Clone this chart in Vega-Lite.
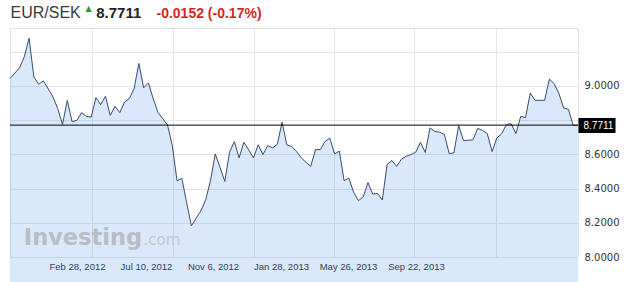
{
  "$schema": "https://vega.github.io/schema/vega-lite/v6.json",
  "autosize": {"type": "none"},
  "padding": {"left": 10, "top": 28, "right": 46, "bottom": 25},
  "width": 568,
  "height": 229,
  "background": "white",
  "config": {
    "view": {"stroke": "#e2e2e2"},
    "axis": {"gridColor": "#e6e6e6", "gridWidth": 1, "titleLimit": 1000}
  },
  "data": {
    "values": [
      {"i":0,"v":9.044},{"i":1,"v":9.075},{"i":2,"v":9.106},{"i":3,"v":9.171},{"i":4,"v":9.279},
      {"i":5,"v":9.053},{"i":6,"v":9.010},{"i":7,"v":9.030},{"i":8,"v":8.984},{"i":9,"v":8.936},
      {"i":10,"v":8.868},{"i":11,"v":8.775},{"i":12,"v":8.916},{"i":13,"v":8.791},{"i":14,"v":8.799},
      {"i":15,"v":8.844},{"i":16,"v":8.822},{"i":17,"v":8.818},{"i":18,"v":8.932},{"i":19,"v":8.891},
      {"i":20,"v":8.940},{"i":21,"v":8.828},{"i":22,"v":8.881},{"i":23,"v":8.844},{"i":24,"v":8.906},
      {"i":25,"v":8.926},{"i":26,"v":8.985},{"i":27,"v":9.132},{"i":28,"v":8.989},{"i":29,"v":9.018},
      {"i":30,"v":8.926},{"i":31,"v":8.846},{"i":32,"v":8.809},{"i":33,"v":8.772},{"i":34,"v":8.652},
      {"i":35,"v":8.446},{"i":36,"v":8.460},{"i":37,"v":8.319},{"i":38,"v":8.182},{"i":39,"v":8.227},
      {"i":40,"v":8.270},{"i":41,"v":8.335},{"i":42,"v":8.446},{"i":43,"v":8.603},{"i":44,"v":8.525},
      {"i":45,"v":8.442},{"i":46,"v":8.613},{"i":47,"v":8.675},{"i":48,"v":8.580},{"i":49,"v":8.671},
      {"i":50,"v":8.627},{"i":51,"v":8.580},{"i":52,"v":8.656},{"i":53,"v":8.599},{"i":54,"v":8.652},
      {"i":55,"v":8.638},{"i":56,"v":8.658},{"i":57,"v":8.789},{"i":58,"v":8.656},{"i":59,"v":8.646},
      {"i":60,"v":8.619},{"i":61,"v":8.580},{"i":62,"v":8.554},{"i":63,"v":8.530},{"i":64,"v":8.628},
      {"i":65,"v":8.628},{"i":66,"v":8.675},{"i":67,"v":8.695},{"i":68,"v":8.603},{"i":69,"v":8.619},
      {"i":70,"v":8.446},{"i":71,"v":8.461},{"i":72,"v":8.378},{"i":73,"v":8.329},{"i":74,"v":8.352},
      {"i":75,"v":8.435},{"i":76,"v":8.368},{"i":77,"v":8.372},{"i":78,"v":8.333},{"i":79,"v":8.540},
      {"i":80,"v":8.564},{"i":81,"v":8.530},{"i":82,"v":8.572},{"i":83,"v":8.589},{"i":84,"v":8.599},
      {"i":85,"v":8.613},{"i":86,"v":8.671},{"i":87,"v":8.611},{"i":88,"v":8.755},{"i":89,"v":8.734},
      {"i":90,"v":8.730},{"i":91,"v":8.717},{"i":92,"v":8.605},{"i":93,"v":8.609},{"i":94,"v":8.769},
      {"i":95,"v":8.681},{"i":96,"v":8.683},{"i":97,"v":8.685},{"i":98,"v":8.752},{"i":99,"v":8.740},
      {"i":100,"v":8.721},{"i":101,"v":8.617},{"i":102,"v":8.697},{"i":103,"v":8.720},{"i":104,"v":8.775},
      {"i":105,"v":8.779},{"i":106,"v":8.722},{"i":107,"v":8.822},{"i":108,"v":8.815},{"i":109,"v":8.959},
      {"i":110,"v":8.916},{"i":111,"v":8.916},{"i":112,"v":8.916},{"i":113,"v":9.040},{"i":114,"v":9.014},
      {"i":115,"v":8.956},{"i":116,"v":8.871},{"i":117,"v":8.863},{"i":118,"v":8.769},{"i":119,"v":8.7711}
    ]
  },
  "resolve": {"axis": {"x": "independent", "y": "independent"}},
  "layer": [
    {
      "mark": {"type": "area", "fill": "#2b7de9", "fillOpacity": 0.18},
      "encoding": {
        "x": {"field": "i", "type": "quantitative",
          "scale": {"domain": [0, 119], "nice": false, "zero": false},
          "axis": {"orient": "top", "values": [17.2, 34.15, 51.1, 67.9, 84.6, 101.8], "grid": true, "labels": false, "ticks": false, "domain": false,
            "title": "EUR/SEK", "titleX": 0, "titleY": -10.5, "titleAlign": "left", "titleBaseline": "alphabetic", "titleAngle": 0,
            "titleFont": "Liberation Sans", "titleFontSize": 16, "titleFontWeight": "normal", "titleColor": "#3a3a3a"}},
        "y": {"field": "v", "type": "quantitative",
          "scale": {"domain": [8.0, 9.339], "nice": false, "zero": false},
          "axis": {"orient": "left", "values": [8.0, 8.2, 8.4, 8.6, 8.8, 9.0, 9.2], "grid": true, "labels": false, "ticks": false, "domain": false,
            "title": "8.7711", "titleX": 85.7, "titleY": -10.5, "titleAlign": "left", "titleBaseline": "alphabetic", "titleAngle": 0,
            "titleFont": "Liberation Sans", "titleFontSize": 15, "titleFontWeight": "bold", "titleColor": "#222222"}}
      }
    },
    {
      "mark": {"type": "line", "stroke": "#3d4a6a", "strokeWidth": 1},
      "encoding": {
        "x": {"field": "i", "type": "quantitative",
          "scale": {"domain": [0, 119], "nice": false, "zero": false},
          "axis": {"orient": "bottom", "values": [14.04, 28.49, 42.53, 56.78, 70.81, 85.06], "grid": false, "ticks": false, "domain": false,
            "labelExpr": "datum.value < 20 ? 'Feb 28, 2012' : datum.value < 35 ? 'Jul 10, 2012' : datum.value < 50 ? 'Nov 6, 2012' : datum.value < 64 ? 'Jan 28, 2013' : datum.value < 78 ? 'May 26, 2013' : 'Sep 22, 2013'",
            "labelFont": "Liberation Sans", "labelFontSize": 9.5, "labelColor": "#333333", "labelPadding": 4, "labelFlush": false, "labelOverlap": false,
            "title": "-0.0152 (-0.17%)", "titleX": 146, "titleY": -239.7, "titleAlign": "left", "titleBaseline": "alphabetic", "titleAngle": 0,
            "titleFont": "Liberation Sans", "titleFontSize": 14, "titleFontWeight": "bold", "titleColor": "#dc1f26"}},
        "y": {"field": "v", "type": "quantitative",
          "scale": {"domain": [8.0, 9.339], "nice": false, "zero": false},
          "axis": {"orient": "right", "values": [8.0, 8.2, 8.4, 8.6, 9.0], "format": ".4f", "grid": false, "ticks": false, "domain": false,
            "labelFont": "DejaVu Sans", "labelFontSize": 10, "labelColor": "#333333", "labelPadding": 6, "labelOverlap": false,
            "title": "▲", "titleX": -493, "titleY": -17.5, "titleAlign": "left", "titleBaseline": "alphabetic", "titleAngle": 0,
            "titleFont": "DejaVu Sans", "titleFontSize": 8, "titleFontWeight": "normal", "titleColor": "#2b9b2b"}}
      }
    },
    {
      "transform": [
        {"joinaggregate": [{"op": "min", "field": "i", "as": "imin"}, {"op": "max", "field": "i", "as": "imax"}]},
        {"filter": "datum.i == datum.imax"}
      ],
      "mark": {"type": "rule", "stroke": "#000000", "strokeWidth": 1},
      "encoding": {
        "x": {"field": "imin", "type": "quantitative",
          "scale": {"domain": [0, 119], "nice": false, "zero": false},
          "axis": {"orient": "bottom", "grid": false, "labels": false, "ticks": false, "domain": false, "zindex": 1,
            "title": ".com", "titleX": 133, "titleY": -13, "titleAlign": "left", "titleBaseline": "alphabetic", "titleAngle": 0,
            "titleFont": "DejaVu Sans", "titleFontSize": 15, "titleFontWeight": "normal", "titleColor": "#c3c7cd"}},
        "x2": {"field": "imax"},
        "y": {"field": "v", "type": "quantitative",
          "scale": {"domain": [8.0, 9.339], "nice": false, "zero": false},
          "axis": {"orient": "right", "values": [8.7711], "format": ".4f", "grid": false, "domain": false, "zindex": 1,
            "ticks": true, "tickSize": 37, "tickWidth": 15, "tickColor": "#000000",
            "labelFont": "Liberation Sans", "labelFontSize": 10, "labelColor": "#ffffff", "labelPadding": -32, "labelOverlap": false,
            "title": "Investing", "titleX": -554.7, "titleY": 216, "titleAlign": "left", "titleBaseline": "alphabetic", "titleAngle": 0,
            "titleFont": "DejaVu Sans", "titleFontSize": 22.5, "titleFontWeight": "bold", "titleColor": "#b9bdc4"}}
      }
    }
  ]
}
